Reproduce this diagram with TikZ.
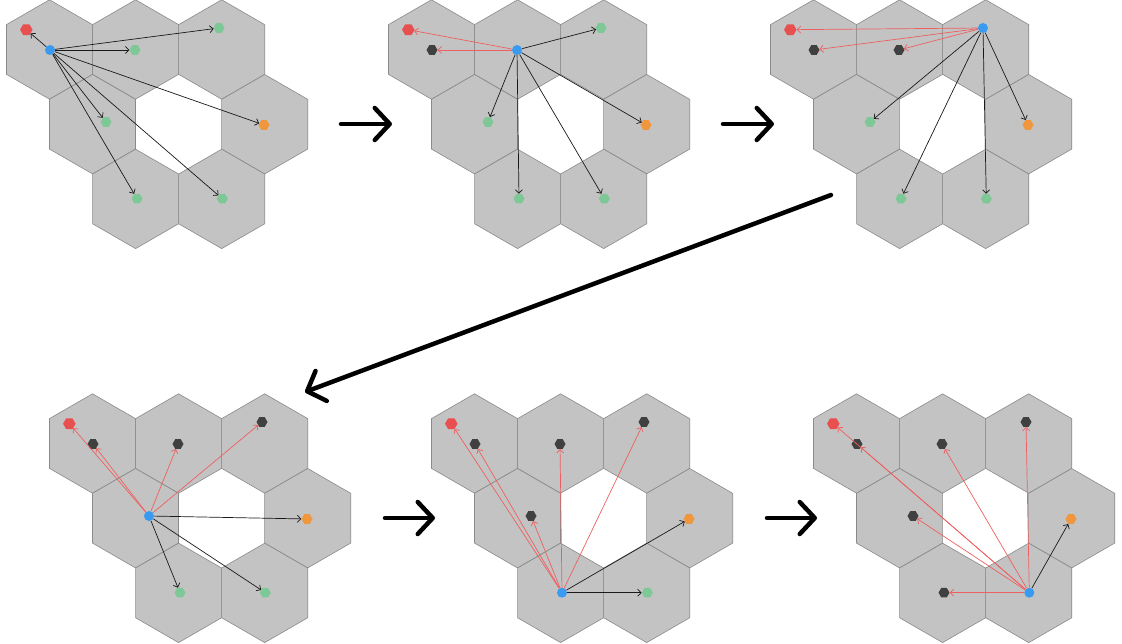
\documentclass[tikz,border=0pt]{standalone}
\usetikzlibrary{arrows.meta,shapes.geometric}
\definecolor{cellfill}{HTML}{C3C3C3}
\definecolor{cellline}{HTML}{8A8A8A}
\definecolor{dotred}{HTML}{E8504F}
\definecolor{dotgreen}{HTML}{7DC896}
\definecolor{dotorange}{HTML}{F0963C}
\definecolor{dotblue}{HTML}{3A9AF0}
\definecolor{dotblack}{HTML}{404040}
\definecolor{linkred}{HTML}{EE6060}
\begin{document}
\begin{tikzpicture}[x=1pt,y=-1pt,
   cell/.style={fill=cellfill,draw=cellline,line width=0.6pt},
   dot/.style={regular polygon,regular polygon sides=6,inner sep=0pt,minimum size=11pt},
   rd/.style={dot,fill=dotred,minimum size=12.5pt},
   bk/.style={dot,fill=dotblack},
   gn/.style={dot,fill=dotgreen},
   og/.style={dot,fill=dotorange},
   bl/.style={circle,inner sep=0pt,minimum size=10pt,fill=dotblue},
   link/.style={line width=0.7pt,black!90,-{Straight Barb[length=3.5pt,width=7pt]}},
   redlink/.style={link,linkred},
   move/.style={line width=4.5pt,line cap=round,-{Straight Barb[length=15pt,width=32pt,round]}}]
\useasboundingbox (0,0) rectangle (1122,644);
% one board: 7 cells round an empty middle, dots listed as r,a,b,c,d,e,f,g
\newcommand{\pnl}[4]{\begin{scope}[shift={(#1,#2)}]
  \foreach \cx/\cy in {49.5/49.5,135.6/49.5,221.7/49.5,92.5/124.2,264.7/124.2,135.6/198.9,221.7/198.9}{
     \draw[cell] (\cx,\cy) +(90:49.7) -- +(150:49.7) -- +(210:49.7) -- +(270:49.7) -- +(330:49.7) -- +(30:49.7) -- cycle;}
  \foreach \nm/\st [count=\ii from 0] in {#4}{
     \pgfmathsetmacro{\px}{{26.3,50,135,219,106,264,137,222.3}[\ii]}
     \pgfmathsetmacro{\py}{{29.7,50,50,28,122,125,198.7,198.7}[\ii]}
     \node[\st] (#3\nm) at (\px,\py) {};}
\end{scope}}
% top row
\pnl{0}{0}{s1}{r/rd,a/bl,b/gn,c/gn,d/gn,e/og,f/gn,g/gn}
\foreach \t in {r,b,c,d,e,f,g}{\draw[link] (s1a) -- (s1\t);}
\pnl{382}{0}{s2}{r/rd,a/bk,b/bl,c/gn,d/gn,e/og,f/gn,g/gn}
\foreach \t in {r,a}{\draw[redlink] (s2b) -- (s2\t);}
\foreach \t in {c,d,e,f,g}{\draw[link] (s2b) -- (s2\t);}
\pnl{764}{0}{s3}{r/rd,a/bk,b/bk,c/bl,d/gn,e/og,f/gn,g/gn}
\foreach \t in {r,a,b}{\draw[redlink] (s3c) -- (s3\t);}
\foreach \t in {d,e,f,g}{\draw[link] (s3c) -- (s3\t);}
% bottom row
\pnl{43}{394}{s4}{r/rd,a/bk,b/bk,c/bk,d/bl,e/og,f/gn,g/gn}
\foreach \t in {r,a,b,c}{\draw[redlink] (s4d) -- (s4\t);}
\foreach \t in {e,f,g}{\draw[link] (s4d) -- (s4\t);}
\pnl{425}{394}{s5}{r/rd,a/bk,b/bk,c/bk,d/bk,e/og,f/bl,g/gn}
\foreach \t in {r,a,b,c,d}{\draw[redlink] (s5f) -- (s5\t);}
\foreach \t in {e,g}{\draw[link] (s5f) -- (s5\t);}
\pnl{807}{394}{s6}{r/rd,a/bk,b/bk,c/bk,d/bk,e/og,f/bk,g/bl}
\foreach \t in {r,a,b,c,d,f}{\draw[redlink] (s6g) -- (s6\t);}
\draw[link] (s6g) -- (s6e);
% steps between boards
\coordinate (m1a) at (341,124); \coordinate (m1b) at (392,124);
\coordinate (m2a) at (723,124); \coordinate (m2b) at (774,124);
\coordinate (m3a) at (831,195); \coordinate (m3b) at (305,392);
\coordinate (m4a) at (385,518); \coordinate (m4b) at (435,518);
\coordinate (m5a) at (767,518); \coordinate (m5b) at (817,518);
\foreach \k in {1,...,5}{\draw[move] (m\k a) -- (m\k b);}
\end{tikzpicture}
\end{document}
